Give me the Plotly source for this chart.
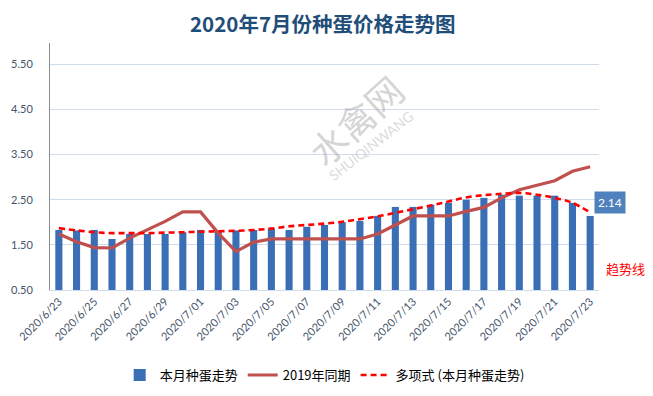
import plotly.graph_objects as go

dates = ["2020/6/23","2020/6/24","2020/6/25","2020/6/26","2020/6/27","2020/6/28","2020/6/29","2020/6/30",
         "2020/7/01","2020/7/02","2020/7/03","2020/7/04","2020/7/05","2020/7/06","2020/7/07","2020/7/08",
         "2020/7/09","2020/7/10","2020/7/11","2020/7/12","2020/7/13","2020/7/14","2020/7/15","2020/7/16",
         "2020/7/17","2020/7/18","2020/7/19","2020/7/20","2020/7/21","2020/7/22","2020/7/23"]
this_month = [1.83,1.82,1.83,1.63,1.74,1.74,1.74,1.78,1.83,1.82,1.82,1.83,1.86,1.83,1.90,1.94,
              2.00,2.03,2.14,2.34,2.34,2.39,2.43,2.50,2.54,2.61,2.59,2.59,2.59,2.43,2.14]
last_year = [1.74,1.57,1.44,1.43,1.65,1.83,2.02,2.23,2.23,1.76,1.35,1.56,1.63,1.63,1.63,1.63,
             1.63,1.63,1.74,1.94,2.14,2.14,2.14,2.24,2.33,2.54,2.72,2.82,2.92,3.13,3.23]
trend = [1.87,1.82,1.78,1.76,1.76,1.76,1.77,1.78,1.79,1.80,1.81,1.83,1.86,1.91,1.94,1.97,
         2.01,2.07,2.13,2.21,2.29,2.37,2.46,2.55,2.60,2.63,2.65,2.61,2.54,2.43,2.22]
y_ticks = [0.5, 1.5, 2.5, 3.5, 4.5, 5.5]
tick_dates = dates[::2]

FONT = "Lato, Noto Sans CJK SC, sans-serif"
CJK = "Noto Sans CJK SC, sans-serif"

fig = go.Figure()
fig.add_trace(go.Bar(x=dates, y=this_month, name="本月种蛋走势", width=0.4,
                     marker=dict(color="#3a6fb5", line=dict(width=0))))
fig.add_trace(go.Scatter(x=dates, y=last_year, name="2019年同期", mode="lines",
                         line=dict(color="#c0504d", width=3.2)))
fig.add_trace(go.Scatter(x=dates, y=trend, name="多项式 (本月种蛋走势)", mode="lines",
                         line=dict(color="#ff0000", width=2.6, dash="6px,4px", shape="spline")))

# watermark text
fig.add_annotation(x=0.556, y=0.688, xref="paper", yref="paper", text="水禽网", showarrow=False,
                   xanchor="center", yanchor="middle", textangle=-42,
                   font=dict(family=CJK, size=37, color="rgba(160,160,160,0.45)"))
fig.add_annotation(x=0.585, y=0.583, xref="paper", yref="paper", text="SHUIQINWANG", showarrow=False,
                   xanchor="center", yanchor="middle", textangle=-38,
                   font=dict(family=FONT, size=14, color="rgba(160,160,160,0.4)"))

# data label on last bar
fig.add_annotation(x=dates[-1], y=this_month[-1], text=f"{this_month[-1]:.2f}", showarrow=False,
                   xanchor="center", yanchor="middle",
                   xshift=20, yshift=13, bgcolor="#4f81bd", borderpad=3,
                   font=dict(family=FONT, size=12, color="white"))
fig.add_annotation(x=1.049, y=0.089, xref="paper", yref="paper", text="趋势线", showarrow=False,
                   xanchor="center", yanchor="middle",
                   font=dict(family=CJK, size=13, color="#ff0000"))

fig.update_layout(
    width=645, height=388,
    margin=dict(l=42, r=54, t=35, b=106),
    paper_bgcolor="white", plot_bgcolor="white",
    title=dict(text="<b>2020年7月份种蛋价格走势图</b>", x=0.488, xanchor="center", y=0.956, yanchor="middle",
               font=dict(family=CJK, size=20.5, color="#1f4e79")),
    bargap=0.6,
    legend=dict(orientation="h", xref="container", yref="container", x=0.491, xanchor="center",
                y=0.054, yanchor="middle",
                font=dict(family=CJK, size=13, color="#000000"), bgcolor="rgba(0,0,0,0)"),
    xaxis=dict(type="category", range=[-0.5, 30.5], tickmode="array", tickvals=tick_dates,
               ticktext=tick_dates, tickangle=-45, showgrid=False, showline=True,
               linecolor="#d0dced", linewidth=1, ticks="", automargin=False,
               tickfont=dict(family=FONT, size=11, color="#44546a")),
    yaxis=dict(range=[0.5, 5.97], tickmode="array", tickvals=y_ticks, tickformat=".2f",
               showgrid=True, gridcolor="#d0dced", gridwidth=1, zeroline=False, automargin=False,
               showline=True, linecolor="#8c8c8c", linewidth=1, ticks="", ticklabelstandoff=14,
               tickfont=dict(family=FONT, size=11, color="#44546a")),
    showlegend=True,
)

fig.write_html("out.html")
